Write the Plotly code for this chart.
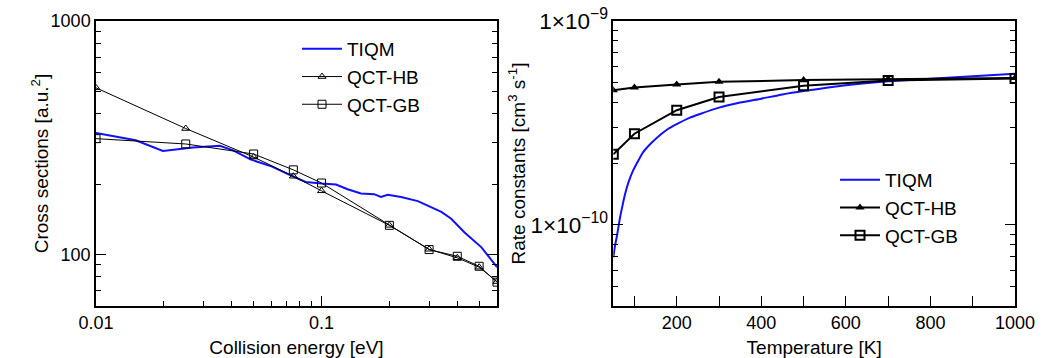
import plotly.graph_objects as go

# ---------------- Left panel: cross sections ----------------
e_qct = [0.01, 0.025, 0.05, 0.075, 0.1, 0.2, 0.3, 0.4, 0.5, 0.6]
cs_hb = [517, 346, 261, 216, 187, 133, 105, 96.5, 88, 76.3]
cs_gb = [313, 297, 269, 230, 202, 133, 104.7, 98, 88.8, 75.9]

e_tiqm = [0.01, 0.015, 0.0198, 0.0269, 0.0354, 0.0406, 0.0484, 0.06, 0.073, 0.0851,
          0.1, 0.116, 0.1305, 0.1496, 0.171, 0.1835, 0.1967, 0.2254, 0.2674, 0.306,
          0.34, 0.376, 0.431, 0.512, 0.6]
cs_tiqm = [331, 308, 277, 287, 292, 279, 255, 238, 218, 204,
           201, 199, 190, 182, 181, 176, 180, 176, 169, 159,
           152, 142, 124, 107, 88]

# ---------------- Right panel: rate constants ----------------
t_qct = [50, 100, 200, 300, 500, 700, 1000]
k_hb = [4.58e-10, 4.72e-10, 4.88e-10, 5.03e-10, 5.13e-10, 5.19e-10, 5.25e-10]
k_gb = [2.22e-10, 2.80e-10, 3.65e-10, 4.24e-10, 4.81e-10, 5.11e-10, 5.23e-10]

t_tiqm = [50, 54, 58, 62, 66, 72, 78, 86, 97, 110, 121, 140, 160, 180, 200, 230, 255,
          300, 350, 400, 450, 500, 600, 700, 800, 900, 1000]
k_tiqm = [6.93e-11, 7.9e-11, 8.69e-11, 9.7e-11, 1.09e-10, 1.25e-10, 1.42e-10, 1.62e-10,
          1.85e-10, 2.08e-10, 2.28e-10, 2.52e-10, 2.75e-10, 2.96e-10, 3.12e-10, 3.35e-10,
          3.50e-10, 3.76e-10, 3.98e-10, 4.16e-10, 4.36e-10, 4.53e-10, 4.84e-10, 5.06e-10,
          5.21e-10, 5.36e-10, 5.51e-10]

BLUE = "#1010ff"
FONT = "Liberation Sans, Arial, sans-serif"

fig = go.Figure()

fig.add_trace(go.Scatter(x=e_tiqm, y=cs_tiqm, mode="lines", name="TIQM",
                         line=dict(color=BLUE, width=2), xaxis="x", yaxis="y", legend="legend"))
fig.add_trace(go.Scatter(x=e_qct, y=cs_hb, mode="lines+markers", name="QCT-HB",
                         line=dict(color="black", width=1),
                         marker=dict(symbol="triangle-up-open", size=7, color="black", line=dict(width=1)),
                         xaxis="x", yaxis="y", legend="legend"))
fig.add_trace(go.Scatter(x=e_qct, y=cs_gb, mode="lines+markers", name="QCT-GB",
                         line=dict(color="black", width=1),
                         marker=dict(symbol="square-open", size=8, color="black", line=dict(width=1)),
                         xaxis="x", yaxis="y", legend="legend"))

fig.add_trace(go.Scatter(x=t_tiqm, y=k_tiqm, mode="lines", name="TIQM", line_shape="spline",
                         line=dict(color=BLUE, width=2, smoothing=0.6), xaxis="x2", yaxis="y2",
                         legend="legend2"))
fig.add_trace(go.Scatter(x=t_qct, y=k_hb, mode="lines+markers", name="QCT-HB",
                         line=dict(color="black", width=2),
                         marker=dict(symbol="triangle-up", size=8, color="black"),
                         xaxis="x2", yaxis="y2", legend="legend2"))
fig.add_trace(go.Scatter(x=t_qct, y=k_gb, mode="lines+markers", name="QCT-GB",
                         line=dict(color="black", width=2),
                         marker=dict(symbol="square-open", size=9, color="black", line=dict(width=2)),
                         xaxis="x2", yaxis="y2", legend="legend2"))

common = dict(showgrid=False, zeroline=False, showline=True, linecolor="black", linewidth=1.5,
              ticks="inside", tickcolor="black", ticklen=10, tickwidth=1,
              tickfont=dict(size=18, color="black", family=FONT))

def minor_log():
    return dict(dtick="D1", ticks="inside", ticklen=5, tickcolor="black", tickwidth=1, showgrid=False)

split = (497 - 96) / 919
start2 = (613.3 - 96) / 919

fig.update_layout(
    template="none",
    width=1042, height=358,
    margin=dict(l=96, r=27, t=21, b=52),
    paper_bgcolor="white", plot_bgcolor="white",
    font=dict(family=FONT, color="black", size=18),
    xaxis=dict(domain=[0, split], type="log", range=[-2, -0.2218], anchor="y",
               dtick=1, mirror=True, minor=minor_log(),
               title=dict(text="Collision energy [eV]", font=dict(size=19, family=FONT, color="black")),
               **common),
    yaxis=dict(type="log", range=[1.778, 3], anchor="x",
               dtick=1, mirror="allticks", minor=minor_log(),
               title=dict(text="Cross sections [a.u.<sup>2</sup>]",
                          font=dict(size=19, family=FONT, color="black")),
               **common),
    xaxis2=dict(domain=[start2, 1], range=[50, 1000], anchor="y2",
                tick0=0, dtick=200, mirror=True,
                minor=dict(tick0=0, dtick=100, ticks="inside", ticklen=10, tickcolor="black",
                           tickwidth=1, showgrid=False),
                title=dict(text="Temperature [K]", font=dict(size=19, family=FONT, color="black")),
                **common),
    yaxis2=dict(type="log", range=[-10.398, -9], anchor="x2",
                dtick=1, exponentformat="power", showexponent="all", tickprefix="1×",
                mirror="allticks", minor=minor_log(),
                title=dict(text="Rate constants [cm<sup>3</sup> s<sup>-1</sup>]",
                           font=dict(size=19, family=FONT, color="black")),
                **common),
    legend=dict(x=(425 - 96) / 919, y=(306 - 30) / 285, xanchor="right", yanchor="top",
                bgcolor="rgba(0,0,0,0)", font=dict(size=19, family=FONT), itemwidth=40,
                tracegroupgap=6),
    legend2=dict(x=(963 - 96) / 919, y=(306 - 161) / 285, xanchor="right", yanchor="top",
                 bgcolor="rgba(0,0,0,0)", font=dict(size=19, family=FONT), itemwidth=40,
                 tracegroupgap=6),
    showlegend=True,
)

fig.write_html("out.html")
